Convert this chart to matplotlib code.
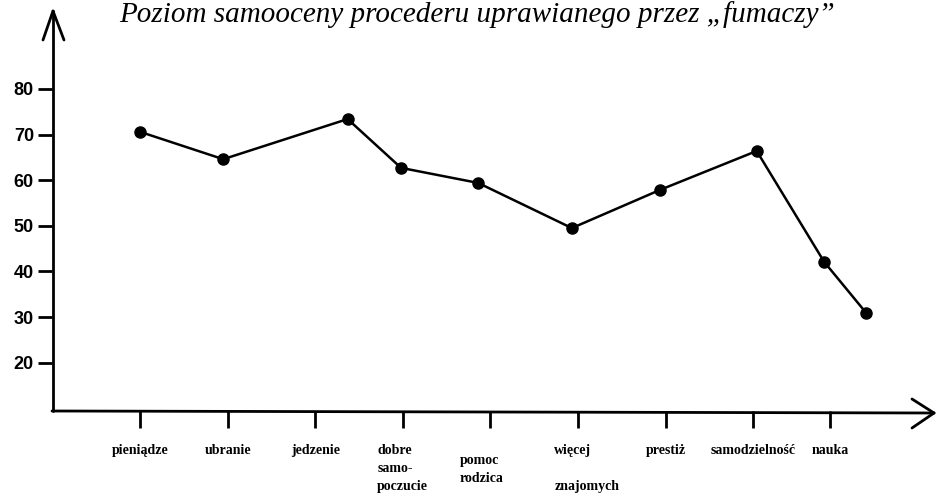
import matplotlib

matplotlib.use("Agg")
import matplotlib.pyplot as plt
import matplotlib.transforms as mtransforms

# values
categories = ["pieniądze", "ubranie", "jedzenie", "dobre\nsamo-\npoczucie",
              "pomoc\nrodzica", "więcej\n\nznajomych", "prestiż",
              "samodzielność", "nauka"]
tick_pos = [0, 1, 2, 3, 4, 5, 6, 7, 7.88]
point_x = [0, 0.95, 2.37, 2.98, 3.86, 4.93, 5.94, 7.04, 7.81, 8.29]
values = [70.6, 64.6, 73.4, 62.7, 59.4, 49.5, 57.9, 66.4, 42.1, 30.9]
y_ticks = [20, 30, 40, 50, 60, 70, 80]
title = "Poziom samooceny procederu uprawianego przez \u201efumaczy\u201d"

W, H = 936, 501
AX_L, AX_B = 52, 411          # pixel position of the axes origin (from top-left)

fig = plt.figure(figsize=(W / 100, H / 100), dpi=100)
ax = fig.add_axes([AX_L / W, (H - AX_B) / H, (W - AX_L) / W, AX_B / H])
ax.set_xlim(-1.005, 9.087)
ax.set_ylim(9.4, 99.5)
for s in ax.spines.values():
    s.set_visible(False)

ax.plot(point_x, values, color="black", lw=1.8, marker="o", ms=8,
        clip_on=False, zorder=3)

# y ticks
ax.set_yticks(y_ticks)
ax.set_yticklabels([str(v) for v in y_ticks], fontfamily="Liberation Sans",
                   fontweight="bold", fontsize=13)
ax.tick_params(axis="y", direction="out", length=10, width=2, pad=3)

# x ticks and multi-line labels
ax.set_xticks(tick_pos)
ax.set_xticklabels([])
ax.tick_params(axis="x", direction="out", length=12, width=2)
lbl_dx = [0, 0, 0, 0, -0.1, 0.1, 0, 0, 0]
lbl_dy = [0, 0, 0, 0, -10, 0, 0, 0, 0]
blend = mtransforms.blended_transform_factory(ax.transData, ax.transAxes)
for xp, lab, dx, dy in zip(tick_pos, categories, lbl_dx, lbl_dy):
    ax.text(xp + dx, (-33 + dy) / AX_B, lab, transform=blend, ha="center",
            va="top", multialignment="left", fontfamily="Liberation Serif",
            fontweight="bold", fontsize=10, linespacing=1.5, clip_on=False)


# axis lines with open arrow heads, drawn in pixel space
def px(x, y):
    return (x - AX_L) / (W - AX_L), (AX_B - y) / AX_B


def seg(p0, p1):
    (x0, y0), (x1, y1) = px(*p0), px(*p1)
    ax.plot([x0, x1], [y0, y1], transform=ax.transAxes, color="black",
            lw=2.0, clip_on=False, solid_capstyle="round")


seg((53, AX_B), (53, 11))
seg((53, 11), (43, 40))
seg((53, 11), (64, 40))
seg((52, AX_B), (934, AX_B + 2))
seg((934, AX_B + 2), (912, 399))
seg((934, AX_B + 2), (912, 428))

fig.text(477 / W, 1 - 22 / H, title, ha="center", va="baseline",
         fontfamily="Liberation Serif", fontstyle="italic", fontsize=21)

fig.savefig("out.png", dpi=100)
